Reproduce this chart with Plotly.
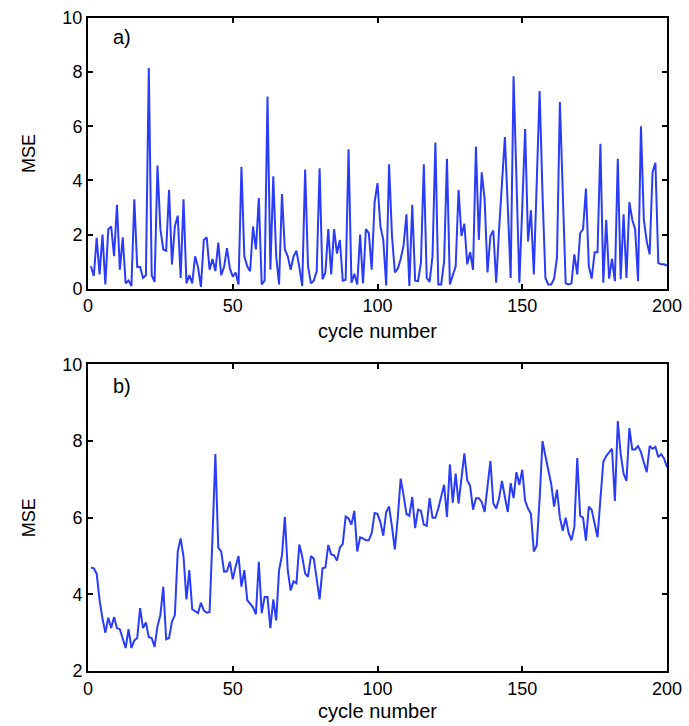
import plotly.graph_objects as go

cycles = list(range(1, 201))

mse_a = [
    0.83, 0.47, 1.88, 0.53, 2.0, 0.16, 2.2, 2.3, 1.2, 3.1,
    0.7, 1.9, 0.2, 0.3, 0.1, 3.3, 0.8, 0.8, 0.4, 0.5,
    8.15, 0.5, 0.25, 4.55, 2.2, 1.45, 1.4, 3.65, 0.9, 2.3,
    2.7, 0.4, 3.3, 0.2, 0.5, 0.2, 1.2, 0.8, 0.07, 1.8,
    1.9, 0.7, 1.1, 0.65, 1.7, 0.5, 0.8, 1.5, 0.75, 0.45,
    0.6, 0.16, 4.5, 1.2, 0.83, 0.65, 2.3, 1.45, 3.35, 0.16,
    0.3, 7.1, 0.7, 4.15, 1.2, 0.16, 3.5, 1.45, 1.2, 0.7,
    1.2, 1.4, 0.8, 0.1, 4.4, 0.83, 0.2, 0.3, 0.65, 4.45,
    0.35, 0.6, 2.2, 0.53, 2.2, 1.3, 1.8, 0.3, 0.33, 5.15,
    0.22, 0.55, 0.16, 2.0, 0.2, 2.2, 2.05, 0.7, 3.2, 3.9,
    2.3, 1.8, 0.12, 4.6, 1.95, 0.6, 0.74, 1.1, 1.6, 2.75,
    0.1, 3.1, 0.3, 0.28, 0.95, 4.6, 0.4, 0.25, 1.2, 5.4,
    0.16, 0.16, 1.0, 4.8, 0.16, 0.47, 0.83, 3.65, 1.95, 2.4,
    0.9, 1.35, 0.7, 5.25, 1.8, 4.3, 3.3, 0.6, 1.95, 2.15,
    0.22, 2.2, 4.0, 5.6, 3.05, 0.4, 7.85, 4.0, 0.22, 3.0,
    5.9, 1.75, 2.9, 0.53, 4.0, 7.3, 3.5, 0.4, 0.16, 0.16,
    0.37, 1.15, 6.9, 3.5, 0.2, 0.16, 0.2, 1.27, 0.53, 2.05,
    2.2, 3.7, 0.83, 0.37, 1.35, 1.35, 5.35, 0.22, 2.55, 0.37,
    1.1, 0.28, 4.8, 0.35, 2.75, 0.4, 3.2, 2.55, 2.2, 0.28,
    6.0, 2.55, 1.75, 1.27, 4.3, 4.65, 0.95, 0.9, 0.9, 0.85,
]

mse_b = [
    4.7, 4.68, 4.54, 3.85, 3.37, 3.0, 3.39, 3.12, 3.41, 3.12,
    3.09, 2.83, 2.6, 3.09, 2.6, 2.8, 2.86, 3.64, 3.12, 3.27,
    2.88, 2.86, 2.63, 3.17, 3.46, 4.2, 2.83, 2.86, 3.29, 3.46,
    5.12, 5.46, 4.98, 3.87, 4.63, 3.61, 3.56, 3.51, 3.78, 3.58,
    3.52, 3.54, 5.5, 7.66, 5.22, 5.12, 4.59, 4.6, 4.85, 4.39,
    4.73, 5.0, 4.2, 4.63, 3.85, 3.74, 3.66, 3.48, 4.85, 3.51,
    3.93, 3.93, 3.12, 3.87, 3.32, 4.63, 5.02, 6.02, 4.63, 4.1,
    4.34, 4.29, 5.3, 4.98, 4.54, 4.46, 5.0, 4.93, 4.42, 3.87,
    4.68, 4.7, 5.29, 5.04, 5.02, 4.88, 5.22, 5.32, 6.03, 5.98,
    5.82, 6.18, 5.12, 5.49, 5.46, 5.41, 5.41, 5.6, 6.12, 6.1,
    5.88, 5.53, 6.15, 6.29, 5.76, 5.17, 6.0, 7.02, 6.59, 6.1,
    6.05, 6.54, 5.73, 6.21, 6.18, 5.82, 5.79, 6.51, 6.0, 6.0,
    6.24, 6.54, 6.86, 6.02, 7.39, 6.39, 7.15, 6.37, 7.09, 7.68,
    6.97, 6.83, 6.21, 6.51, 6.51, 6.41, 6.15, 6.78, 7.48, 6.37,
    6.24, 6.51, 6.96, 6.54, 6.15, 6.9, 6.51, 7.19, 6.86, 7.25,
    6.44, 6.24, 6.1, 5.12, 5.27, 6.49, 8.0, 7.61, 7.22, 6.88,
    6.29, 6.73, 6.0, 5.66, 6.0, 5.61, 5.41, 5.76, 7.56, 6.05,
    6.0, 5.4, 6.29, 6.2, 5.85, 5.49, 6.49, 7.46, 7.61, 7.7,
    7.8, 6.44, 8.52, 7.66, 7.15, 6.96, 8.34, 7.78, 7.78, 7.87,
    7.71, 7.44, 7.19, 7.87, 7.8, 7.85, 7.58, 7.66, 7.54, 7.32,
]

panel_labels = ["a)", "b)"]
x_ticks = [0, 50, 100, 150, 200]
ya_ticks = [0, 2, 4, 6, 8, 10]
yb_ticks = [2, 4, 6, 8, 10]

line_color = "#2a3cf8"
font_family = "Liberation Sans, Arial, Helvetica, sans-serif"

fig = go.Figure()
fig.add_trace(go.Scatter(x=cycles, y=mse_a, mode="lines",
                         line=dict(color=line_color, width=2),
                         xaxis="x", yaxis="y", showlegend=False))
fig.add_trace(go.Scatter(x=cycles, y=mse_b, mode="lines",
                         line=dict(color=line_color, width=2),
                         xaxis="x2", yaxis="y2", showlegend=False))

axis_common = dict(
    showline=True, linecolor="black", linewidth=2, mirror="ticks",
    ticks="inside", ticklen=5, tickwidth=1.5, tickcolor="black",
    showgrid=False, zeroline=False, ticklabeloverflow="allow",
    tickfont=dict(family=font_family, size=18, color="black"),
)

fig.update_layout(
    width=689, height=726,
    margin=dict(l=88, r=7, t=18, b=53),
    plot_bgcolor="white", paper_bgcolor="white",
    font=dict(family=font_family, color="black"),
    xaxis=dict(domain=[0, 1], anchor="y", range=[0, 200], tickvals=x_ticks,
               title=dict(text="cycle number", font=dict(size=20), standoff=9),
               **axis_common),
    yaxis=dict(domain=[0.5854, 1], anchor="x", range=[0, 10], tickvals=ya_ticks,
               title=dict(text="MSE", font=dict(size=18), standoff=22),
               **axis_common),
    xaxis2=dict(domain=[0, 1], anchor="y2", range=[0, 200], tickvals=x_ticks,
                title=dict(text="cycle number", font=dict(size=20), standoff=6),
                **axis_common),
    yaxis2=dict(domain=[0, 0.4695], anchor="x2", range=[2, 10], tickvals=yb_ticks,
                title=dict(text="MSE", font=dict(size=18), standoff=22),
                **axis_common),
    annotations=[
        dict(text=panel_labels[0], x=0.04, y=0.93, xref="x domain", yref="y domain",
             showarrow=False, xanchor="left", yanchor="middle",
             font=dict(size=20, family=font_family, color="black")),
        dict(text=panel_labels[1], x=0.04, y=0.93, xref="x2 domain", yref="y2 domain",
             showarrow=False, xanchor="left", yanchor="middle",
             font=dict(size=20, family=font_family, color="black")),
    ],
)

fig.write_html("out.html")
